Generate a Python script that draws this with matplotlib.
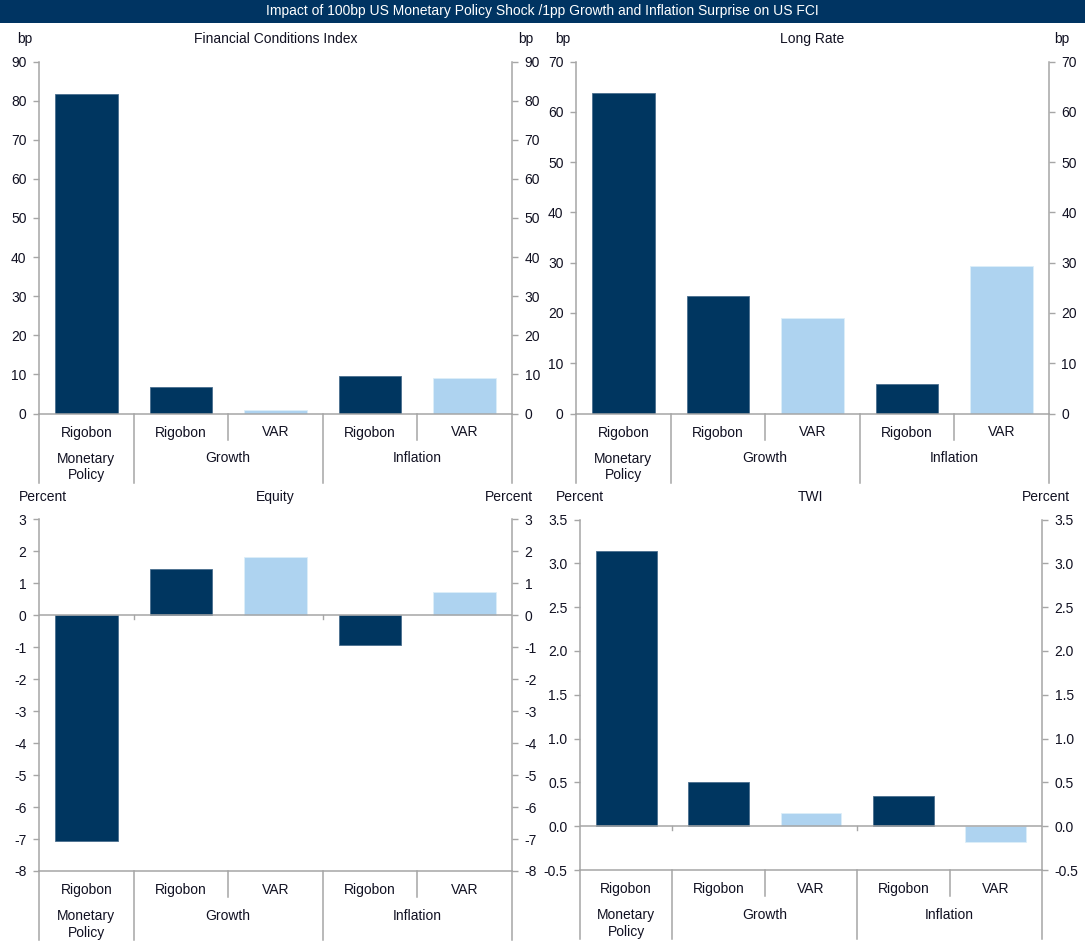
import matplotlib
matplotlib.use('Agg')
import matplotlib.pyplot as plt
from matplotlib.patches import Rectangle
from matplotlib.ticker import MultipleLocator, FormatStrFormatter

plt.rcParams['font.family'] = ['Liberation Sans', 'DejaVu Sans']
plt.rcParams['axes.unicode_minus'] = False

# ---------------- data ----------------
bar_labels = ['Rigobon', 'Rigobon', 'VAR', 'Rigobon', 'VAR']
group_labels = ['Monetary\nPolicy', 'Growth', 'Inflation']
group_members = [[0], [1, 2], [3, 4]]
is_var = [False, False, True, False, True]

fci = [81.8, 6.7, 0.9, 9.5, 9.0]
long_rate = [63.8, 23.4, 19.0, 5.8, 29.4]
equity = [-7.05, 1.44, 1.84, -0.93, 0.73]
twi = [3.14, 0.50, 0.15, 0.34, -0.18]

title = 'Impact of 100bp US Monetary Policy Shock /1pp Growth and Inflation Surprise on US FCI'

# ---------------- style ----------------
W, H, DPI = 1085, 951, 100
DARK = '#003660'
LIGHT = '#AED3F0'
NAVY = '#003462'
GRAY = '#A6A6A6'
TXT = '#111122'
FS = 10

fig = plt.figure(figsize=(W / DPI, H / DPI), dpi=DPI)

# title band
fig.patches.append(Rectangle((0, 1 - 23 / H), 1, 23 / H, transform=fig.transFigure,
                             facecolor=NAVY, edgecolor='none'))
fig.text(0.5, 1 - 11.5 / H, title, ha='center', va='center', color='white',
         fontsize=10, family=['Liberation Sans Narrow', 'Liberation Sans', 'DejaVu Sans'])

panels = [
    dict(title='Financial Conditions Index', unit='bp', values=fci, ylim=(0, 90), step=10,
         fmt='%d', box=(39, 512, 61.5, 413.5), uoff=(-14, 14)),
    dict(title='Long Rate', unit='bp', values=long_rate, ylim=(0, 70), step=10,
         fmt='%d', box=(576, 1049, 61.5, 413.5), uoff=(-13, 13)),
    dict(title='Equity', unit='Percent', values=equity, ylim=(-8, 3), step=1,
         fmt='%d', box=(39, 512, 519.5, 871), uoff=(4, -3)),
    dict(title='TWI', unit='Percent', values=twi, ylim=(-0.5, 3.5), step=0.5,
         fmt='%.1f', box=(580, 1042, 519.5, 870), uoff=(0, 4)),
]

for p in panels:
    l, r, t, b = p['box']
    ax = fig.add_axes([l / W, 1 - b / H, (r - l) / W, (b - t) / H])
    hpx = b - t
    ymin, ymax = p['ylim']
    cols = [LIGHT if v else DARK for v in is_var]
    edges = ['#DDEEF9' if v else '#4A6E8E' for v in is_var]
    ax.bar(range(len(p['values'])), p['values'], width=0.66, color=cols,
           edgecolor=edges, linewidth=0.6, zorder=2)
    ax.set_xlim(-0.5, len(p['values']) - 0.5)
    ax.set_ylim(ymin, ymax)
    ax.yaxis.set_major_locator(MultipleLocator(p['step']))
    ax.yaxis.set_major_formatter(FormatStrFormatter(p['fmt']))
    ax.set_xticks([])
    for s in ['left', 'right', 'bottom']:
        ax.spines[s].set_color(GRAY)
        ax.spines[s].set_linewidth(1.1)
    ax.spines['top'].set_visible(False)
    ax.tick_params(axis='y', which='both', left=True, right=True, labelleft=True,
                   labelright=True, direction='out', length=4, width=1.0,
                   color=GRAY, labelsize=FS, labelcolor=TXT, pad=5)
    ax.patch.set_alpha(0)

    xt = ax.get_xaxis_transform()
    # zero line with group ticks when axis goes negative
    if ymin < 0:
        ax.axhline(0, color=GRAY, lw=1.1, zorder=3)
        dy = 4 * (ymax - ymin) / hpx
        for g in group_members[:-1]:
            xb = g[-1] + 0.5
            ax.plot([xb, xb], [0, -dy], color=GRAY, lw=1.0, zorder=3, clip_on=False)

    # category separators below the axis
    n = len(p['values'])
    group_bounds = [-0.5] + [g[-1] + 0.5 for g in group_members]
    for k in range(n + 1):
        xb = k - 0.5
        depth = 69 if xb in group_bounds else 26
        ax.plot([xb, xb], [0, -depth / hpx], transform=xt, color=GRAY, lw=1.1,
                clip_on=False)
    for i, lab in enumerate(bar_labels):
        ax.text(i, -19 / hpx, lab, transform=xt, ha='center', va='center',
                fontsize=FS, color=TXT)
    for g, lab in zip(group_members, group_labels):
        xc = (g[0] + g[-1]) / 2
        yc = -53.5 / hpx if '\n' in lab else -45 / hpx
        ax.text(xc, yc, lab, transform=xt, ha='center', va='center', fontsize=FS,
                color=TXT, linespacing=1.25)

    # titles and units
    ytitle = 1 - (t - 22.5) / H
    fig.text(((l + r) / 2) / W, ytitle, p['title'], ha='center', va='center',
             fontsize=FS, color=TXT)
    fig.text((l + p['uoff'][0]) / W, ytitle, p['unit'], ha='center', va='center',
             fontsize=FS, color=TXT)
    fig.text((r + p['uoff'][1]) / W, ytitle, p['unit'], ha='center', va='center',
             fontsize=FS, color=TXT)

fig.savefig('out.png', dpi=DPI, facecolor='white')
